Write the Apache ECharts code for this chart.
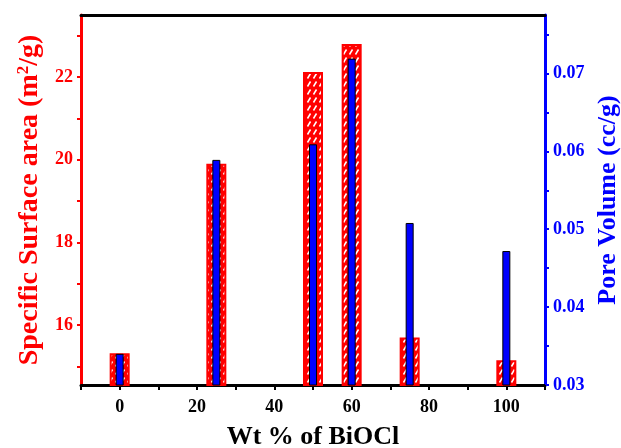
<!DOCTYPE html>
<html><head><meta charset="utf-8">
<script src="https://cdn.jsdelivr.net/npm/echarts@6/dist/echarts.min.js"></script>
<style>html,body{margin:0;padding:0;background:#fff}#c{width:621px;height:448px}</style>
</head><body><div id="c"></div>
<script>
const xValues = [0, 25, 50, 60, 75, 100];
const surfaceArea = [15.32, 19.9, 22.12, 22.8, 15.7, 15.15];
const poreVolume = [0.034, 0.0589, 0.0609, 0.0719, 0.0508, 0.0472];
const xTickLabels = [0, 20, 40, 60, 80, 100];
const xTicks = [-10, 0, 10, 20, 30, 40, 50, 60, 70, 80, 90, 100, 110];
const leftTickLabels = [16, 18, 20, 22];
const leftTicks = [15, 16, 17, 18, 19, 20, 21, 22, 23];
const rightTickLabels = [0.03, 0.04, 0.05, 0.06, 0.07];
const rightTicks = [0.03, 0.035, 0.04, 0.045, 0.05, 0.055, 0.06, 0.065, 0.07, 0.075];

const FONT = '"Liberation Serif", "Times New Roman", serif';

// hatch pattern: red with white diagonal dashes
const pc = document.createElement('canvas');
pc.width = 6; pc.height = 8;
const g = pc.getContext('2d');
g.fillStyle = '#ff0000'; g.fillRect(0, 0, 6, 8);
g.strokeStyle = '#ffffff'; g.lineWidth = 1.5;
g.beginPath(); g.moveTo(1.5, 6.5); g.lineTo(4.5, 1.5); g.stroke();

const chart = echarts.init(document.getElementById('c'), null, {renderer: 'canvas'});
chart.setOption({
  animation: false,
  backgroundColor: '#fff',
  grid: {left: 81, right: 76, top: 15, bottom: 63, containLabel: false, outerBoundsMode: 'none'},
  xAxis: [{
    type: 'value', min: -10, max: 110, position: 'bottom',
    name: 'Wt % of BiOCl', nameLocation: 'middle', nameGap: 39,
    nameTextStyle: {fontFamily: FONT, fontWeight: 'bold', fontSize: 26, color: '#000'},
    axisLine: {show: true, onZero: false, lineStyle: {color: '#000', width: 3}},
    axisTick: {show: true, customValues: xTicks, length: 5, lineStyle: {color: '#000', width: 2}},
    axisLabel: {customValues: xTickLabels, margin: 13, fontFamily: FONT, fontWeight: 'bold', fontSize: 18, color: '#000'},
    splitLine: {show: false}
  }, {
    type: 'value', min: -10, max: 110, position: 'top',
    axisLine: {show: true, onZero: false, lineStyle: {color: '#000', width: 3}},
    axisTick: {show: false}, axisLabel: {show: false}, splitLine: {show: false}
  }],
  yAxis: [{
    type: 'value', min: 14.55, max: 23.5, position: 'left',
    name: 'Specific Surface area (m{sup|2}/g)', nameLocation: 'middle', nameGap: 33, nameRotate: 90,
    nameTextStyle: {fontFamily: FONT, fontWeight: 'bold', fontSize: 28, color: '#ff0000',
      rich: {sup: {fontFamily: FONT, fontWeight: 'bold', fontSize: 17, color: '#ff0000', verticalAlign: 'top', padding: [0, 0, 12, 0]}}},
    axisLine: {show: true, onZero: false, lineStyle: {color: '#ff0000', width: 3}},
    axisTick: {show: true, customValues: leftTicks, length: 4, lineStyle: {color: '#ff0000', width: 2}},
    axisLabel: {customValues: leftTickLabels, margin: 8, fontFamily: FONT, fontWeight: 'bold', fontSize: 18, color: '#ff0000'},
    splitLine: {show: false}
  }, {
    type: 'value', min: 0.03, max: 0.0775, position: 'right',
    name: 'Pore Volume (cc/g)', nameLocation: 'middle', nameGap: 50, nameRotate: 90,
    nameTextStyle: {fontFamily: FONT, fontWeight: 'bold', fontSize: 26, color: '#0000ff'},
    axisLine: {show: true, onZero: false, lineStyle: {color: '#0000ff', width: 3}},
    axisTick: {show: true, customValues: rightTicks, length: 4, lineStyle: {color: '#0000ff', width: 2}},
    axisLabel: {customValues: rightTickLabels, margin: 8, fontFamily: FONT, fontWeight: 'bold', fontSize: 18, color: '#0000ff',
      formatter: v => v.toFixed(2)},
    splitLine: {show: false}
  }],
  series: [{
    type: 'bar', xAxisIndex: 0, yAxisIndex: 0, barWidth: 20, clip: true,
    data: xValues.map((x, i) => [x, surfaceArea[i]]),
    itemStyle: {color: {image: pc, repeat: 'repeat'}, borderColor: '#ff0000', borderWidth: 2}
  }, {
    type: 'bar', xAxisIndex: 1, yAxisIndex: 1, barWidth: 8, clip: true,
    data: xValues.map((x, i) => [x, poreVolume[i]]),
    itemStyle: {color: '#0000ff', borderColor: '#000', borderWidth: 1}
  }]
});
</script></body></html>
